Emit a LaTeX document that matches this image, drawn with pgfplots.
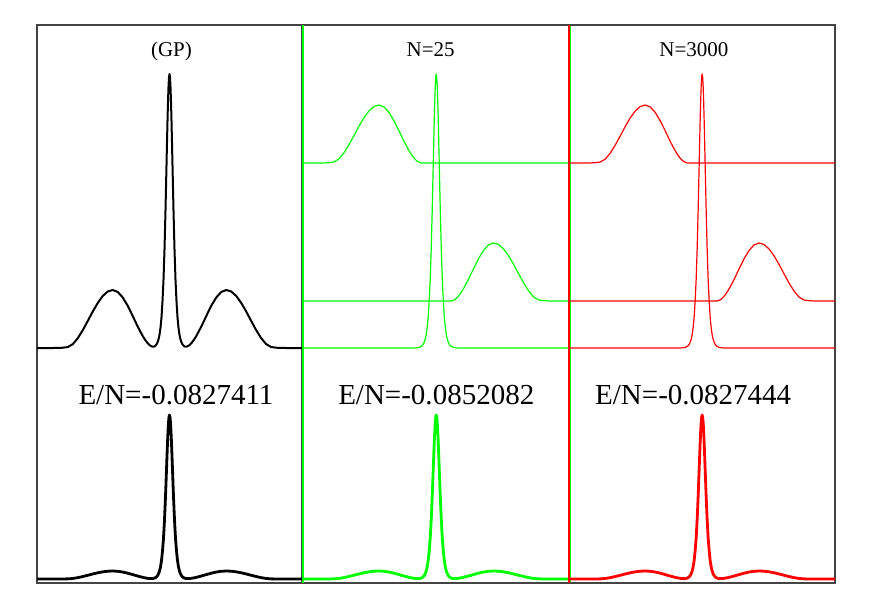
\documentclass[border=0pt]{standalone}
\usepackage{pgfplots}
\pgfplotsset{compat=1.18}
\usepackage{pgfplotstable}
\usepackage{fontspec}
\setmainfont{Liberation Serif}
\definecolor{frame}{HTML}{444444}
\definecolor{gpgreen}{HTML}{00FF00}
\definecolor{gpred}{HTML}{FF0000}

% u: position inside a panel (0..266); top/bot: y positions (pixels, downward) of total density
% g1,g2,g3: the three single components shown in N=25 and N=3000 panels
\pgfplotstableread{
u top bot g1 g2 g3
0 348 579 163 301 348
6 348 579 163 301 348
11 348 579 163 301 348
16 348 579 163 301 348
21 347.95 578.99 162.95 301 348
26 347.7 578.96 162.7 301 348
31 347.0 578.86 162.0 301 348
36 344.1 578.46 159.1 301 348
41 338.1 577.63 153.1 301 348
46 330.1 576.53 145.1 301 348
51 320.9 575.26 135.9 301 348
56 311.5 573.97 126.5 301 348
61 302.9 572.78 117.9 301 348
66 296.0 571.83 111.0 301 348
71 291.5 571.21 106.5 301 348
76 290.0 571.0 105.0 301 348
81 291.9 571.26 106.9 301 348
86 297.4 572.02 112.4 301 348
91 305.7 573.17 120.7 301 348
96 315.8 574.56 130.8 301 348
101 326.4 576.02 141.4 301 348
106 335.8 577.32 150.8 301 348
108 339.1 577.77 154.1 301 347.98
111 343.13 578.30 158.2 301 347.93
113 345.1 578.53 160.3 301 347.83
115 346.4 578.59 161.8 301 347.59
117 346.7 578.36 162.7 301 347.0
118 346.4 578.07 162.92 301 346.46
119 345.6 577.56 163 301 345.6
120 344.32 576.8 163 301 344.32
121 342.3 575.59 163 301 342.3
122 339.25 573.76 163 301 339.25
123 334.6 570.98 163 301 334.6
124 327.5 566.73 163 301 327.5
125 316.9 560.39 163 301 316.9
126 300.6 550.63 163 301 300.6
127 279.2 537.82 163 301 279.2
128 248.7 519.57 163 301 248.7
129 209.7 496.23 163 301 209.7
130 164.9 469.41 163 301 164.9
130.5 142.0 455.7 163 301 142.0
131 120.4 442.78 163 301 120.4
131.5 101.5 431.47 163 301 101.5
132 86.7 422.61 163 301 86.7
132.5 77.2 416.93 163 301 77.2
133 74.0 415.0 163 301 74.0
133.5 77.2 416.93 163 301 77.2
134 86.7 422.61 163 301 86.7
134.5 101.5 431.47 163 301 101.5
135 120.4 442.78 163 301 120.4
135.5 142.0 455.7 163 301 142.0
136 164.9 469.41 163 301 164.9
137 209.7 496.23 163 301 209.7
138 248.7 519.57 163 301 248.7
139 279.2 537.82 163 301 279.2
140 300.6 550.63 163 301 300.6
141 316.9 560.39 163 301 316.9
142 327.5 566.73 163 301 327.5
143 334.6 570.98 163 301 334.6
144 339.25 573.76 163 301 339.25
145 342.3 575.59 163 301 342.3
146 344.32 576.8 163 301 344.32
147 345.6 577.56 163 301 345.6
148 346.4 578.07 163 300.92 346.46
149 346.7 578.36 163 300.7 347.0
151 346.4 578.59 163 299.8 347.59
153 345.1 578.53 163 298.3 347.83
155 343.13 578.30 163 296.2 347.93
158 339.1 577.77 163 292.1 347.98
160 335.8 577.32 163 288.8 348
165 326.4 576.02 163 279.4 348
170 315.8 574.56 163 268.8 348
175 305.7 573.17 163 258.7 348
180 297.4 572.02 163 250.4 348
185 291.9 571.26 163 244.9 348
190 290.0 571.0 163 243.0 348
195 291.5 571.21 163 244.5 348
200 296.0 571.83 163 249.0 348
205 302.9 572.78 163 255.9 348
210 311.5 573.97 163 264.5 348
215 320.9 575.26 163 273.9 348
220 330.1 576.53 163 283.1 348
225 338.1 577.63 163 291.1 348
230 344.1 578.46 163 297.1 348
235 347.0 578.86 163 300.0 348
240 347.7 578.96 163 300.7 348
245 347.95 578.99 163 300.95 348
250 348 579 163 301 348
255 348 579 163 301 348
260 348 579 163 301 348
266 348 579 163 301 348
}\prof

\pgfplotsset{
  panel/.style={
    scale only axis, height=558pt,
    xmin=0, xmax=266, ymin=25, ymax=583, y dir=reverse,
    xtick=\empty, ytick=\empty,
    axis line style={draw=none},
    clip=false, anchor=south west,
  },
  thin curve/.style={line width=1.2pt, line join=round},
  thick curve/.style={line width=2.8pt, line join=round},
}
\newcommand{\titlefont}{\fontsize{21}{25}\selectfont}
\newcommand{\enfont}{\fontsize{29}{34}\selectfont}

\begin{document}
\begin{tikzpicture}
\path[use as bounding box] (0,0) rectangle (872pt,610pt);

% ---- GP panel ----
\begin{axis}[panel, at={(37pt,27pt)}, width=265pt]
  \draw[frame, line width=1.3pt] (rel axis cs:0,0) rectangle (rel axis cs:1,1);
  \addplot[black, line width=2pt, line join=round] table[x=u, y=top] {\prof};
  \addplot[black, thick curve] table[x=u, y=bot] {\prof};
  \node[anchor=base, font=\titlefont] at (axis cs:135,56.7) {(GP)};
  \node[anchor=base, font=\enfont] at (axis cs:139.5,404.3) {E/N=-0.0827411};
\end{axis}

% ---- N=25 panel ----
\begin{axis}[panel, at={(302.5pt,27pt)}, width=267.5pt]
  \draw[frame, line width=1.3pt] (rel axis cs:0,0) -- (rel axis cs:1,0);
  \draw[frame, line width=1.3pt] (rel axis cs:0,1) -- (rel axis cs:1,1);
  \draw[gpgreen, line width=2pt] (rel axis cs:0,0) -- (rel axis cs:0,1);
  \draw[gpgreen, line width=2pt] (rel axis cs:1,0) -- (rel axis cs:1,1);
  \addplot[gpgreen, thin curve] table[x=u, y=g1] {\prof};
  \addplot[gpgreen, thin curve] table[x=u, y=g2] {\prof};
  \addplot[gpgreen, thin curve] table[x=u, y=g3] {\prof};
  \addplot[gpgreen, thick curve] table[x=u, y=bot] {\prof};
  \node[anchor=base, font=\titlefont] at (axis cs:127.5,56.7) {N=25};
  \node[anchor=base, font=\enfont] at (axis cs:133,404.3) {E/N=-0.0852082};
\end{axis}

% ---- N=3000 panel ----
\begin{axis}[panel, at={(569.3pt,27pt)}, width=265.7pt]
  \draw[frame, line width=1.3pt] (rel axis cs:0,0) -- (rel axis cs:1,0) -- (rel axis cs:1,1) -- (rel axis cs:0,1);
  \draw[gpred, line width=2pt] (rel axis cs:0,0) -- (rel axis cs:0,1);
  \addplot[gpred, thin curve] table[x=u, y=g1] {\prof};
  \addplot[gpred, thin curve] table[x=u, y=g2] {\prof};
  \addplot[gpred, thin curve] table[x=u, y=g3] {\prof};
  \addplot[gpred, thick curve] table[x=u, y=bot] {\prof};
  \node[anchor=base, font=\titlefont] at (axis cs:124.7,56.7) {N=3000};
  \node[anchor=base, font=\enfont] at (axis cs:124,404.3) {E/N=-0.0827444};
\end{axis}
\end{tikzpicture}
\end{document}
